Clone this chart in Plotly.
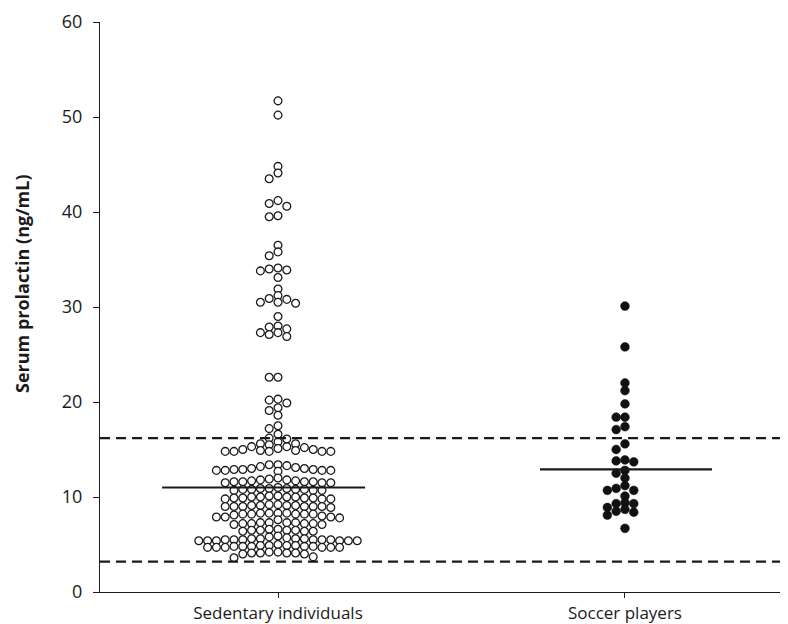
import plotly.graph_objects as go

# ---------------- data ----------------
categories = ["Sedentary individuals", "Soccer players"]

sedentary = [
    51.7, 50.2,
    44.8, 44.1, 43.5,
    41.2, 40.9, 40.6, 39.6, 39.5,
    36.5, 35.8, 35.4,
    34.1, 34.0, 33.9, 33.8, 33.1,
    31.9,
    31.2, 30.9, 30.8, 30.5, 30.5, 30.4,
    29.0,
    28.0, 27.9, 27.7, 27.3, 27.3, 27.1, 26.9,
    22.6, 22.6,
    20.3, 20.2, 19.9, 19.4, 19.1, 18.6,
    17.5, 17.2, 16.6,
    16.2, 16.1, 15.8,
    15.6, 15.5, 15.6,
    15.3, 15.2, 15.0, 14.9, 14.8, 14.8, 14.8, 14.8, 14.8, 14.9, 15.0, 15.1, 15.3,
    13.4, 13.4, 13.3,
    13.0, 12.9, 12.8, 12.8, 12.8, 12.7, 12.8, 12.9, 12.9, 13.0, 13.1, 13.2,
    12.0, 11.9,
    11.8, 11.7, 11.6, 11.6, 11.5, 11.5, 11.5, 11.6, 11.6, 11.7, 11.8,
    10.9, 10.9, 10.8, 10.8, 10.7, 10.7, 10.7, 10.8, 10.8, 10.9, 11.0,
    10.1, 10.0, 10.0, 9.9, 9.9, 9.8, 9.8, 9.8, 9.9, 9.9, 10.0, 10.0, 10.1,
    9.2, 9.1, 9.1, 9.0, 9.0, 9.0, 8.9, 9.0, 9.0, 9.0, 9.1, 9.1, 9.2,
    8.3, 8.3, 8.2, 8.2, 8.2, 8.1, 8.2, 8.2, 8.3, 8.3,
    7.9, 7.9, 7.6, 7.8, 7.9, 8.0,
    7.3, 7.3, 7.2, 7.2, 7.1, 7.1, 7.2, 7.2, 7.3, 7.3,
    6.6, 6.5, 6.5, 6.4, 6.4, 6.4, 6.5, 6.5, 6.6,
    5.9, 5.8,
    5.6, 5.6, 5.5, 5.5, 5.5, 5.4, 5.4, 5.4, 5.4, 5.4, 5.4, 5.5, 5.5, 5.5, 5.6, 5.6, 5.7,
    4.9, 4.9, 4.8, 4.8, 4.7, 4.7, 4.7, 4.7, 4.7, 4.7, 4.8, 4.8, 4.8, 4.9, 4.9, 5.0,
    4.2, 4.1, 4.1, 4.0, 4.0, 4.1, 4.1, 4.2,
    3.7, 3.6,
]

soccer = [
    30.1, 25.8, 22.0, 21.2, 19.8, 18.4, 18.4, 17.4, 17.1, 15.6, 15.0,
    13.8, 13.7, 13.9, 12.8, 12.5, 12.0, 11.2, 10.7, 10.7, 10.9, 10.1,
    9.3, 9.3, 9.4, 8.9, 8.7, 8.4, 8.1, 8.5, 6.7,
]

medians = [11.0, 12.9]
ref_low, ref_high = 3.2, 16.2
y_tick_vals = [0, 10, 20, 30, 40, 50, 60]
y_title = "Serum prolactin (ng/mL)"

# ---------------- layout geometry ----------------
# the page body adds an 8px offset, margins compensate for it
W, H = 788, 624
OFF = 8
ML, MR, MT, MB = 100 - OFF, 9, 22 - OFF, 40
PLOT_W = W - ML - MR
PLOT_H = H - MT - MB
X_RANGE = [-0.513, 1.467]
Y_RANGE = [0, 60]
PX_X = PLOT_W / (X_RANGE[1] - X_RANGE[0])
PX_Y = PLOT_H / (Y_RANGE[1] - Y_RANGE[0])


def swarm_offsets(values, step_px=8.8, thr_px=6.0):
    """Greedy grid beeswarm: returns x offsets (in axis units)."""
    order = sorted(range(len(values)), key=lambda i: -values[i])
    placed = []
    offs = [0.0] * len(values)
    cands = [0]
    for n in range(1, 60):
        cands += [-n, n]
    for i in order:
        y = values[i] * PX_Y
        x = 0.0
        for c in cands:
            x = c * step_px
            if all((x - px) ** 2 + (y - py) ** 2 >= thr_px ** 2 for px, py in placed):
                break
        placed.append((x, y))
        offs[i] = x / PX_X
    return offs


sed_x = [0 + o for o in swarm_offsets(sedentary)]
soc_x = [1 + o for o in swarm_offsets(soccer)]

fig = go.Figure()
fig.add_trace(go.Scatter(
    x=sed_x, y=sedentary, mode="markers",
    marker=dict(symbol="circle", size=7.8, color="white",
                line=dict(color="#1a1a1a", width=1.3)),
    showlegend=False, hoverinfo="y"))
fig.add_trace(go.Scatter(
    x=soc_x, y=soccer, mode="markers",
    marker=dict(symbol="circle", size=8.8, color="#111111",
                line=dict(color="#111111", width=0.5)),
    showlegend=False, hoverinfo="y"))

# reference-range dashed lines
for v in (ref_low, ref_high):
    fig.add_shape(type="line", xref="paper", x0=0, x1=1.02, yref="y", y0=v, y1=v,
                  line=dict(color="#1a1a1a", width=2.4, dash="10px,6px"))

# median lines
line_spans = [(-0.334, 0.251), (-0.245, 0.251)]
for i, m in enumerate(medians):
    a, b = line_spans[i]
    fig.add_shape(type="line", xref="x", x0=i + a, x1=i + b, yref="y", y0=m, y1=m,
                  line=dict(color="#1a1a1a", width=2.2))

font_family = "Open Sans, Noto Sans, DejaVu Sans, sans-serif"

fig.update_layout(
    width=W, height=H,
    margin=dict(l=ML, r=MR, t=MT, b=MB, pad=0, autoexpand=False),
    paper_bgcolor="white", plot_bgcolor="white",
    font=dict(family=font_family, size=18, color="#1a1a1a"),
    xaxis=dict(range=X_RANGE, tickmode="array", tickvals=[0, 1], ticktext=categories,
               showgrid=False, zeroline=False, showline=True, linecolor="#1a1a1a",
               linewidth=1.2, ticks="outside", ticklen=5, tickcolor="#1a1a1a",
               tickfont=dict(size=17), automargin=False),
    yaxis=dict(range=Y_RANGE, tickmode="array", tickvals=y_tick_vals,
               showgrid=False, zeroline=False, showline=True, linecolor="#1a1a1a",
               linewidth=1.2, ticks="outside", ticklen=6, tickcolor="#1a1a1a",
               tickfont=dict(size=18), ticklabelstandoff=7, automargin=False),
)

fig.add_annotation(
    text="<b>" + y_title + "</b>", xref="paper", yref="paper",
    x=(22 - OFF - ML) / PLOT_W, y=(H - MB - (284 - OFF)) / PLOT_H,
    textangle=-90, showarrow=False, font=dict(size=18, family=font_family),
    xanchor="center", yanchor="middle")

fig.write_html("out.html")
